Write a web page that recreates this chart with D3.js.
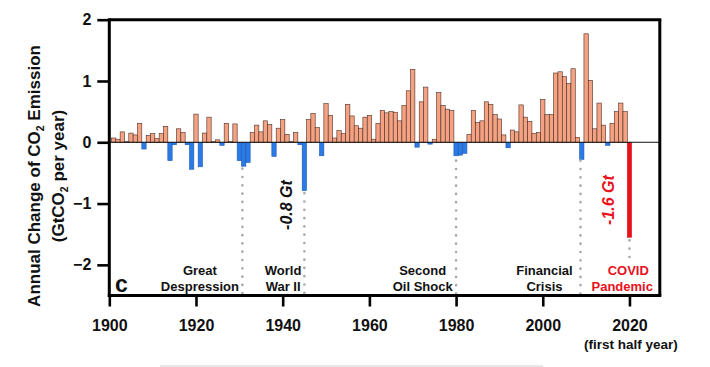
<!DOCTYPE html>
<html><head><meta charset="utf-8">
<script src="https://cdn.jsdelivr.net/npm/d3@7"></script>
<style>
body{margin:0;background:#fff}
svg{display:block}
text{font-family:"Liberation Sans",Arial,sans-serif}
</style>
</head><body>
<svg id="chart" width="710" height="367"></svg>
<script>
// ---- data ----
const years = d3.range(1901, 2021);
const changes = [
  0.07, 0.05, 0.17, 0.01, 0.15, 0.12, 0.31, -0.11, 0.11, 0.14,   // 1901-1910
  0.06, 0.14, 0.26, -0.30, -0.04, 0.22, 0.16, -0.04, -0.44, 0.46, // 1911-1920
  -0.40, 0.15, 0.41, 0.01, 0.04, -0.05, 0.31, 0.01, 0.30, -0.30,  // 1921-1930
  -0.39, -0.33, 0.16, 0.28, 0.17, 0.35, 0.29, -0.23, 0.23, 0.37,  // 1931-1940
  0.13, 0.01, 0.16, -0.04, -0.79, 0.37, 0.47, 0.24, -0.22, 0.63,  // 1941-1950
  0.44, 0.07, 0.19, 0.14, 0.62, 0.43, 0.27, 0.23, 0.41, 0.44,     // 1951-1960
  0.05, 0.31, 0.52, 0.48, 0.50, 0.49, 0.35, 0.60, 0.84, 1.19,     // 1961-1970
  -0.08, 0.66, 0.90, -0.03, 0.05, 0.81, 0.60, 0.54, 0.52, -0.22,  // 1971-1980
  -0.21, -0.18, 0.13, 0.52, 0.32, 0.35, 0.66, 0.62, 0.45, 0.38,   // 1981-1990
  0.12, -0.09, 0.20, 0.17, 0.61, 0.41, 0.34, 0.14, 0.16, 0.70,    // 1991-2000
  0.45, 0.45, 1.13, 1.15, 1.07, 0.96, 1.20, 0.08, -0.28, 1.77,    // 2001-2010
  1.01, 0.22, 0.64, 0.28, -0.05, 0.31, 0.50, 0.64, 0.50, -1.55    // 2011-2020
];
const yTicks = [-2, -1, 0, 1, 2];
const xTicks = [1900, 1920, 1940, 1960, 1980, 2000, 2020];
const eventYears = [1930.7, 1945, 1980, 2008.7, 2020];
const eventFrom = [-0.43, -0.83, -0.30, -0.30, -1.60];
const eventTo = [-2.5, -2.5, -2.5, -2.5, -1.97];
const eventLabels = [["Great", "Despression"], ["World", "War II"], ["Second", "Oil Shock"], ["Financial", "Crisis"], ["COVID", "Pandemic"]];
const dropLabels = [{year: 1945, text: "-0.8 Gt"}, {year: 2020, text: "-1.6 Gt"}];

// ---- layout ----
const svg = d3.select("#chart");
const x = d3.scaleLinear().domain([1900, 2027]).range([109.3, 659.8]);
const y = d3.scaleLinear().domain([-2.5, 2]).range([295.5, 19.7]);
const bw = x(1901) - x(1900);
const salmon = "#f5a282", blue = "#2b7be6", red = "#e8111c";

// bars
svg.append("g").selectAll("rect")
  .data(years.map((yr, i) => ({yr, v: changes[i]})))
  .join("rect")
  .attr("x", d => x(d.yr) - bw / 2)
  .attr("width", bw)
  .attr("y", d => y(Math.max(0, d.v)))
  .attr("height", d => Math.abs(y(d.v) - y(0)))
  .attr("fill", d => d.yr === 2020 ? red : (d.v >= 0 ? salmon : blue))
  .attr("stroke", d => d.yr === 2020 ? red : (d.v >= 0 ? "#4a2e26" : "#1d55b0"))
  .attr("stroke-width", 0.6);

// zero line
svg.append("line")
  .attr("x1", x(1900)).attr("x2", x(2027))
  .attr("y1", y(0)).attr("y2", y(0))
  .attr("stroke", "#111").attr("stroke-width", 1);

// dotted event lines
svg.append("g").selectAll("line")
  .data(eventYears.map((yr, i) => ({yr, a: eventFrom[i], b: eventTo[i]})))
  .join("line")
  .attr("x1", d => x(d.yr)).attr("x2", d => x(d.yr))
  .attr("y1", d => y(d.a)).attr("y2", d => y(d.b))
  .attr("stroke", "#a9a9a9").attr("stroke-width", 2.6)
  .attr("stroke-linecap", "round")
  .attr("stroke-dasharray", "0.1,8.2");

// frame top & right
svg.append("line").attr("x1", x(1900)).attr("x2", x(2027) + 1.5)
  .attr("y1", y(2)).attr("y2", y(2)).attr("stroke", "#000").attr("stroke-width", 3);
svg.append("line").attr("x1", x(2027)).attr("x2", x(2027))
  .attr("y1", y(2)).attr("y2", y(-2.5)).attr("stroke", "#000").attr("stroke-width", 3);

// axes
const yAxis = svg.append("g").attr("transform", `translate(${x(1900)},0)`)
  .call(d3.axisLeft(y).tickValues(yTicks).tickFormat(d3.format("d")).tickSize(12).tickSizeOuter(0).tickPadding(6));
const xAxis = svg.append("g").attr("transform", `translate(0,${y(-2.5)})`)
  .call(d3.axisBottom(x).tickValues(xTicks).tickFormat(d3.format("d")).tickSize(11).tickSizeOuter(0).tickPadding(13));
[yAxis, xAxis].forEach(g => {
  g.select(".domain").attr("stroke", "#000").attr("stroke-width", 3);
  g.selectAll(".tick line").attr("stroke", "#000").attr("stroke-width", 2.6);
  g.selectAll(".tick text").attr("fill", "#111")
    .style("font-family", '"Liberation Sans",Arial,sans-serif')
    .style("font-size", "16px").style("font-weight", "bold");
});
xAxis.select(".domain").attr("d", `M${x(1900) - 1.5},0H${x(2027) + 1.5}`);
yAxis.select(".domain").attr("d", `M0,${y(2) - 1.5}V${y(-2.5) + 1.5}`);

// "(first half year)"
svg.append("text").attr("x", x(2020) + 1.5).attr("y", 349)
  .attr("text-anchor", "middle").attr("fill", "#111")
  .style("font-size", "13.5px").style("font-weight", "bold")
  .text("(first half year)");

// y-axis title
const title = svg.append("g").attr("transform", `translate(39.5,${y(-0.55)}) rotate(-90)`);
const t1 = title.append("text").attr("text-anchor", "middle").attr("fill", "#111")
  .style("font-size", "17px").style("font-weight", "bold");
t1.append("tspan").text("Annual Change of CO");
t1.append("tspan").text("2").style("font-size", "10.5px").attr("dy", 4);
t1.append("tspan").text(" Emission").attr("dy", -4);
const t2 = title.append("text").attr("y", 24).attr("text-anchor", "middle").attr("fill", "#111")
  .style("font-size", "17px").style("font-weight", "bold");
t2.append("tspan").text("(GtCO");
t2.append("tspan").text("2").style("font-size", "10.5px").attr("dy", 4);
t2.append("tspan").text(" per year)").attr("dy", -4);

// panel letter
svg.append("text").attr("x", 115).attr("y", 292).attr("fill", "#111")
  .style("font-size", "23px").style("font-weight", "bold").text("c");

// event labels (two lines each)
const labelYear = [1920.9, 1940.1, 1972.3, 2000.4, 2018.8];
eventLabels.forEach((lines, i) => {
  const col = i === 4 ? red : "#111";
  lines.forEach((s, j) => {
    svg.append("text")
      .attr("x", x(labelYear[i]) + (i === 4 ? (j === 0 ? 4 : -2) : 0))
      .attr("y", 274.5 + j * 16.5)
      .attr("text-anchor", "middle").attr("fill", col)
      .style("font-size", "13px").style("font-weight", "bold")
      .text(s);
  });
});

// rotated drop labels
dropLabels.forEach((d, i) => {
  const cx = x(d.year) - (i === 0 ? 17.5 : 21.5);
  const cy = i === 0 ? 205 : 200;
  svg.append("text")
    .attr("transform", `translate(${cx},${cy}) rotate(-90)`)
    .attr("text-anchor", "middle").attr("dy", "0.35em")
    .attr("fill", i === 0 ? "#111" : red)
    .style("font-size", "16px").style("font-weight", "bold").style("font-style", "italic")
    .text(d.text);
});

// faint divider at bottom
svg.append("line").attr("x1", 160).attr("x2", 543).attr("y1", 366).attr("y2", 366)
  .attr("stroke", "#cfcfcf").attr("stroke-width", 1);
</script>
</body></html>
